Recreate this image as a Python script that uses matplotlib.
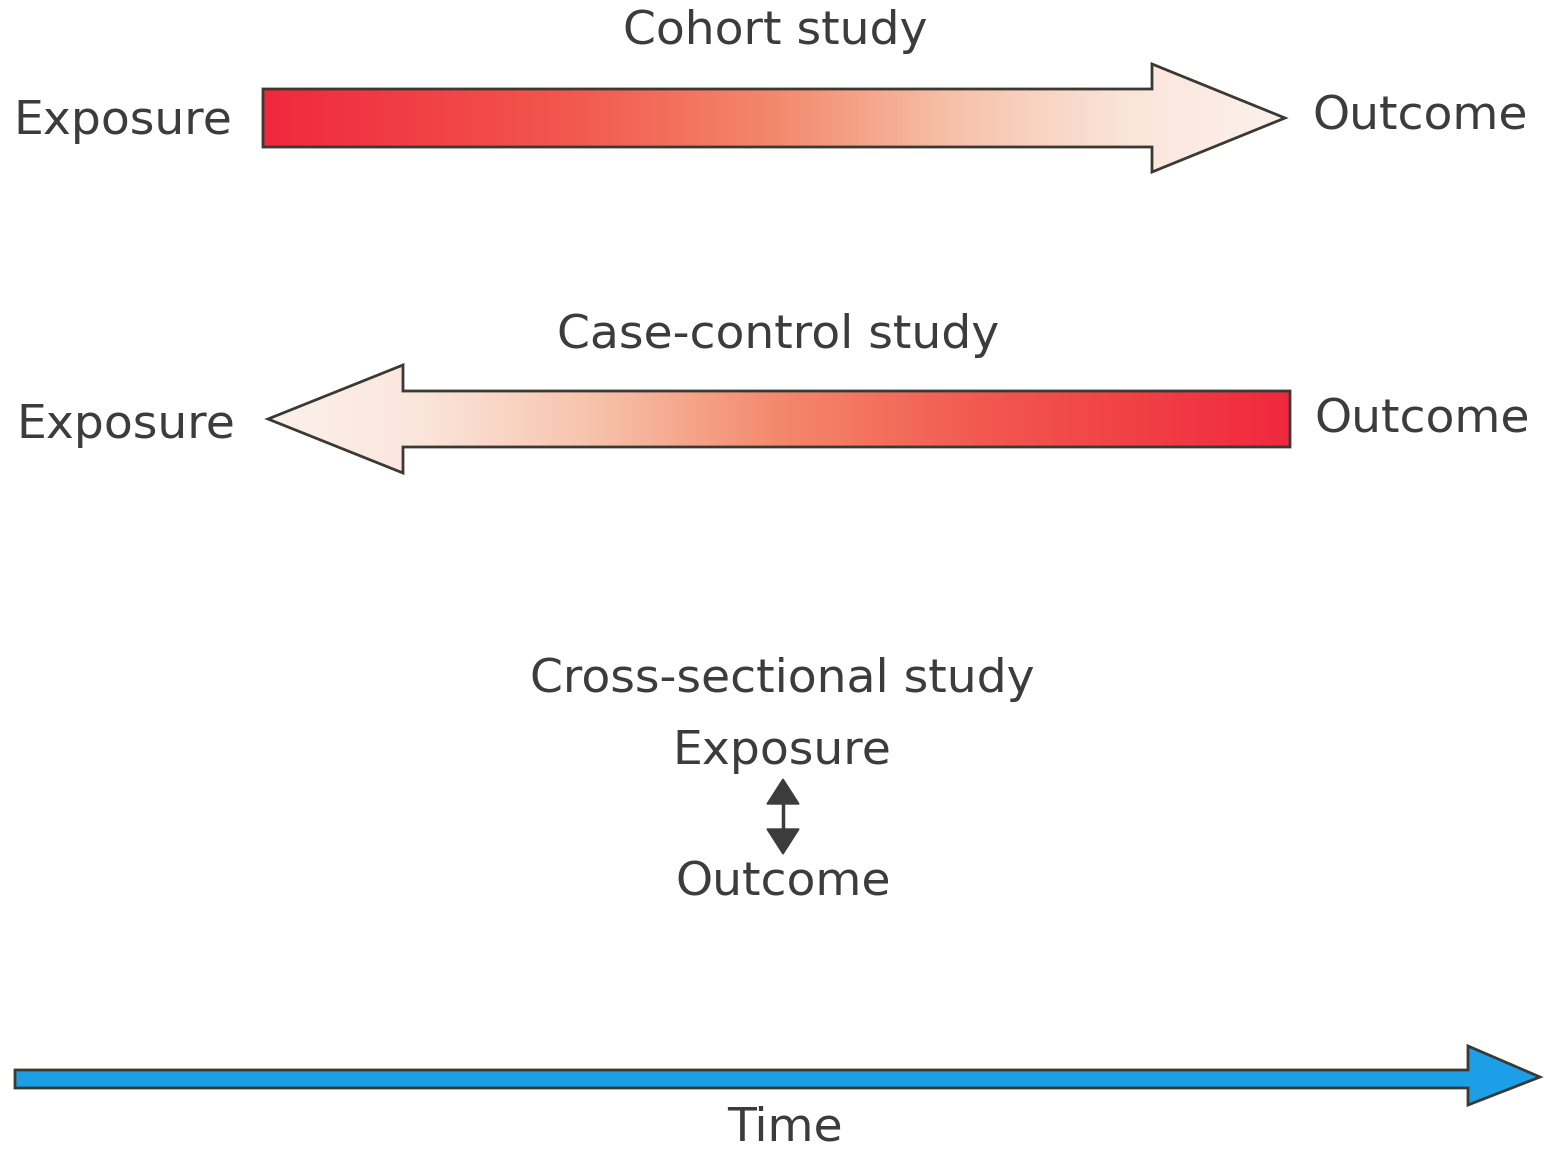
import numpy as np
import matplotlib.pyplot as plt
from matplotlib.patches import Polygon
from matplotlib.colors import LinearSegmentedColormap

# textos del diagrama
titulos = ['Cohort study', 'Case-control study', 'Cross-sectional study']
exposicion = 'Exposure'
resultado = 'Outcome'
tiempo = 'Time'

# colores
rojo_claro = LinearSegmentedColormap.from_list(
    'rojo', [(0.0, '#f0283e'), (0.3, '#f2584e'), (0.5, '#f4886c'),
             (0.68, '#f7c2ab'), (0.85, '#fbe5db'), (1.0, '#fcf1ec')])
azul = '#1c9fe6'
gris = '#3c3c3c'
borde = '#3a3a32'

plt.rcParams['font.family'] = ['DejaVu Sans']

fig = plt.figure(figsize=(15.5, 11.5), dpi=100)
ax = fig.add_axes([0, 0, 1, 1])
ax.set_xlim(0, 1550)
ax.set_ylim(1150, 0)
ax.axis('off')


def flecha_gradiente(x_cola, x_base, x_punta, y_c, medio_cuerpo, medio_cabeza, invertir):
    # poligono de la flecha gruesa
    pts = [(x_cola, y_c - medio_cuerpo), (x_base, y_c - medio_cuerpo),
           (x_base, y_c - medio_cabeza), (x_punta, y_c),
           (x_base, y_c + medio_cabeza), (x_base, y_c + medio_cuerpo),
           (x_cola, y_c + medio_cuerpo)]
    poli = Polygon(pts, closed=True, facecolor='none', edgecolor=borde, lw=2, zorder=3)
    ax.add_patch(poli)
    grad = np.linspace(0, 1, 256).reshape(1, -1)
    if invertir:
        grad = grad[:, ::-1]
    x0, x1 = min(x_cola, x_punta), max(x_cola, x_punta)
    img = ax.imshow(grad, cmap=rojo_claro, aspect='auto',
                    extent=[x0, x1, y_c + medio_cabeza, y_c - medio_cabeza], zorder=2)
    img.set_clip_path(poli)


# estudio de cohortes
flecha_gradiente(263, 1152, 1285, 118, 29, 54, False)
ax.text(775, 32, titulos[0], ha='center', va='center', fontsize=34, color=gris)
ax.text(13, 122, exposicion, ha='left', va='center', fontsize=34, color=gris)
ax.text(1312, 117, resultado, ha='left', va='center', fontsize=34, color=gris)

# estudio de casos y controles
flecha_gradiente(1290, 403, 268, 419, 28, 54, True)
ax.text(778, 336, titulos[1], ha='center', va='center', fontsize=34, color=gris)
ax.text(16, 425, exposicion, ha='left', va='center', fontsize=34, color=gris)
ax.text(1314, 420, resultado, ha='left', va='center', fontsize=34, color=gris)

# estudio transversal
ax.text(782, 679, titulos[2], ha='center', va='center', fontsize=34, color=gris)
ax.text(782, 751, exposicion, ha='center', va='center', fontsize=34, color=gris)
ax.text(783, 883, resultado, ha='center', va='center', fontsize=34, color=gris)
# flecha doble
ax.add_patch(Polygon([(783, 779), (767, 804), (799, 804)], closed=True,
                     facecolor=gris, edgecolor=gris, lw=1, zorder=3))
ax.add_patch(Polygon([(783, 854), (767, 829), (799, 829)], closed=True,
                     facecolor=gris, edgecolor=gris, lw=1, zorder=3))
ax.plot([783, 783], [800, 833], color=gris, lw=2.5, zorder=3)

# eje del tiempo
pts_t = [(15, 1070), (1468, 1070), (1468, 1046), (1540, 1077),
         (1468, 1105), (1468, 1088), (15, 1088)]
ax.add_patch(Polygon(pts_t, closed=True, facecolor=azul, edgecolor=borde, lw=2, zorder=3))
ax.text(785, 1128, tiempo, ha='center', va='center', fontsize=34, color=gris)

fig.savefig('out.png', dpi=100, facecolor='white')
